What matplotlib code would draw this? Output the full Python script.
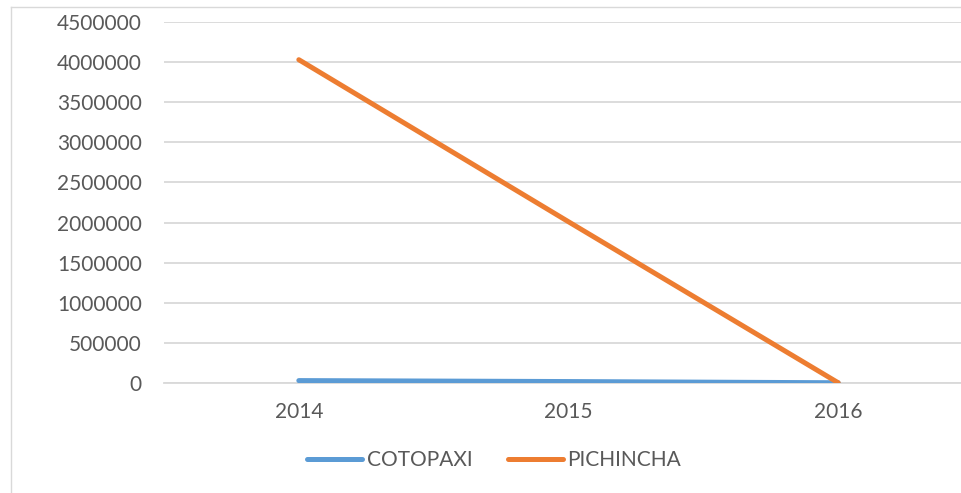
import matplotlib.pyplot as plt
from matplotlib.lines import Line2D

years = ["2014", "2015", "2016"]
cotopaxi = [30000, 18000, 3000]
pichincha = [4030000, 2010000, 3000]
yticks = list(range(0, 4500001, 500000))

plt.rcParams['font.family'] = ['Lato', 'DejaVu Sans']
text_gray = '#595959'
grid_gray = '#d9d9d9'

W, H = 961, 493
fig = plt.figure(figsize=(W / 100, H / 100), dpi=100)
ax = fig.add_axes([164 / W, 1 - 383 / H, (973 - 164) / W, (383 - 22) / H])

x = range(len(years))
ax.plot(x, cotopaxi, color='#5B9BD5', lw=3.6, solid_capstyle='round', label='COTOPAXI', zorder=3)
ax.plot(x, pichincha, color='#ED7D31', lw=3.6, solid_capstyle='round', label='PICHINCHA', zorder=3)

ax.set_xlim(-0.5, len(years) - 0.5)
ax.set_ylim(0, 4500000)
ax.set_xticks(list(x))
ax.set_xticklabels(years)
ax.set_yticks(yticks)
ax.set_yticklabels([str(v) for v in yticks])
ax.tick_params(length=0, labelsize=15, labelcolor=text_gray)
ax.tick_params(axis='y', pad=16)
ax.tick_params(axis='x', pad=14)
ax.grid(axis='y', color=grid_gray, lw=1.3)
ax.set_axisbelow(True)
for s in ['top', 'right', 'left']:
    ax.spines[s].set_visible(False)
ax.spines['bottom'].set_color(grid_gray)
ax.spines['bottom'].set_linewidth(1.3)

# chart frame (cut off at right and bottom)
fig.add_artist(Line2D([10.5 / W, 1], [1 - 7 / H, 1 - 7 / H], color=grid_gray, lw=1))
fig.add_artist(Line2D([10.5 / W, 10.5 / W], [0, 1 - 7 / H], color=grid_gray, lw=1))

leg = fig.legend(loc='center', bbox_to_anchor=(494 / W, 1 - 460 / H), ncol=2,
                 frameon=False, fontsize=15, handlelength=2.65, handletextpad=0.2,
                 columnspacing=1.7)
for t in leg.get_texts():
    t.set_color(text_gray)

fig.savefig('out.png', dpi=100)
